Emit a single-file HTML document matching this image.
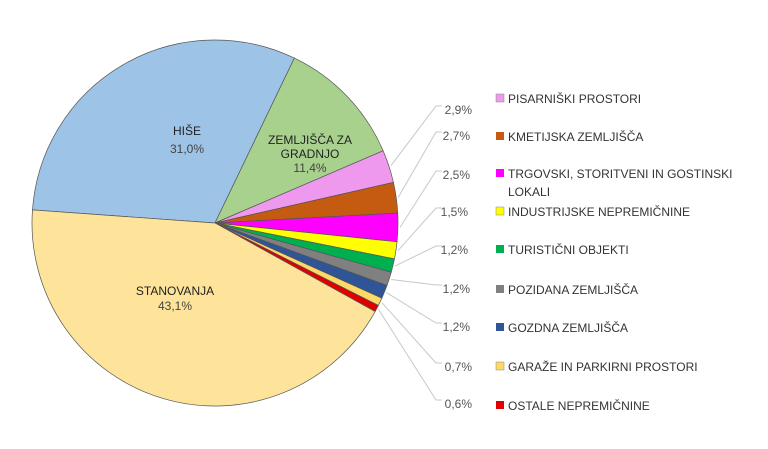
<!DOCTYPE html>
<html><head><meta charset="utf-8"><style>
html,body{margin:0;padding:0;background:#fff;}
svg text{font-family:"Liberation Sans",sans-serif;}
</style></head><body>
<svg id="s" width="768" height="444" viewBox="0 0 768 444" xmlns="http://www.w3.org/2000/svg">
<g id="pie"></g>
<g id="lead" stroke="#c8c8c8" stroke-width="1" fill="none"></g>
<g font-size="12" fill="#222" text-anchor="middle">
<text x="187" y="135">HIŠE</text>
<text x="187" y="153" fill="#444">31,0%</text>
<text x="310" y="144">ZEMLJIŠČA ZA</text>
<text x="310" y="158">GRADNJO</text>
<text x="310" y="172" fill="#444">11,4%</text>
<text x="175" y="295">STANOVANJA</text>
<text x="175" y="310" fill="#444">43,1%</text>
</g>
<g font-size="12" fill="#555" text-anchor="end">
<text x="472" y="114">2,9%</text>
<text x="470" y="140">2,7%</text>
<text x="470" y="179">2,5%</text>
<text x="468" y="216">1,5%</text>
<text x="468" y="254">1,2%</text>
<text x="470" y="293">1,2%</text>
<text x="470" y="331">1,2%</text>
<text x="472" y="371">0,7%</text>
<text x="472" y="408">0,6%</text>
</g>
<g font-size="12" fill="#333" id="leg">
<rect x="496" y="94" width="8" height="8" fill="#ee99ee" stroke="#888" stroke-width="0.5"/><text x="508" y="103">PISARNIŠKI PROSTORI</text>
<rect x="496" y="132" width="8" height="8" fill="#c55a11"/><text x="508" y="141">KMETIJSKA ZEMLJIŠČA</text>
<rect x="496" y="169" width="8" height="8" fill="#ff00ff"/><text x="508" y="178">TRGOVSKI, STORITVENI IN GOSTINSKI</text>
<text x="508" y="196">LOKALI</text>
<rect x="496" y="207" width="8" height="8" fill="#ffff00" stroke="#888" stroke-width="0.5"/><text x="508" y="216">INDUSTRIJSKE NEPREMIČNINE</text>
<rect x="496" y="245" width="8" height="8" fill="#00b050"/><text x="508" y="254">TURISTIČNI OBJEKTI</text>
<rect x="496" y="285" width="8" height="8" fill="#808080"/><text x="508" y="294">POZIDANA ZEMLJIŠČA</text>
<rect x="496" y="323" width="8" height="8" fill="#2f5597"/><text x="508" y="332">GOZDNA ZEMLJIŠČA</text>
<rect x="496" y="362" width="8" height="8" fill="#ffd966" stroke="#888" stroke-width="0.5"/><text x="508" y="371">GARAŽE IN PARKIRNI PROSTORI</text>
<rect x="496" y="401" width="8" height="8" fill="#e00000"/><text x="508" y="410">OSTALE NEPREMIČNINE</text>
</g>
</svg>
<script>
var cx=215,cy=223,R=183;
var d=[[31.0,"#9dc3e6"],[11.4,"#a9d18e"],[2.9,"#ee99ee"],[2.7,"#c55a11"],[2.5,"#ff00ff"],[1.5,"#ffff00"],[1.2,"#00b050"],[1.2,"#808080"],[1.2,"#2f5597"],[0.7,"#ffd966"],[0.6,"#e00000"],[43.1,"#fde49a"]];
var a=25.7-111.6,ns="http://www.w3.org/2000/svg",g=document.getElementById("pie"),L=document.getElementById("lead");
function pt(ang,r){var t=ang*Math.PI/180;return [cx+r*Math.sin(t),cy-r*Math.cos(t)];}
var ly=[110,136,175,212,250,289,327,367,404],k=0;
d.forEach(function(s,i){var sw=s[0]*3.6,p1=pt(a,R),p2=pt(a+sw,R);
var p=document.createElementNS(ns,"path");
p.setAttribute("d","M"+cx+","+cy+"L"+p1[0]+","+p1[1]+"A"+R+","+R+" 0 "+(sw>180?1:0)+" 1 "+p2[0]+","+p2[1]+"Z");
p.setAttribute("fill",s[1]);p.setAttribute("stroke","#555");p.setAttribute("stroke-width","0.7");g.appendChild(p);
if(i>=2&&i<=10){var m=pt(a+sw/2,R+2),y=ly[k++];var l=document.createElementNS(ns,"polyline");
l.setAttribute("points",m[0]+","+m[1]+" 436,"+(y-4)+" 442,"+(y-4));L.appendChild(l);}
a+=sw;});
</script>
</body></html>
